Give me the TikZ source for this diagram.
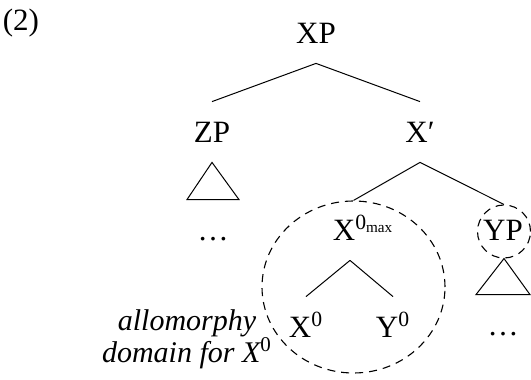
\documentclass[tikz,border=0pt]{standalone}
\usepackage{fontspec}
\setmainfont{Liberation Serif}
\usepackage{tikz}
\usetikzlibrary{
  positioning,
  shapes.geometric,
  calc
}
\tikzset{
  % Category label of a tree node
  catlabel/.style={
    font=\fontsize{15.5}{17}\selectfont,
    inner xsep=0pt,
    inner ysep=10pt,
    text height=10pt,
    text depth=0pt,
    anchor=base
  },
  % Tree branch
  branch/.style={
    draw=black,
    line width=0.5pt
  },
  % Dashed domain circle
  domcircle/.style={
    draw=black,
    line width=0.55pt,
    dash pattern=on 4pt off 3pt,
    inner sep=0pt
  },
  % Side note
  note/.style={
    font=\fontsize{15}{16}\selectfont\itshape,
    align=center,
    inner sep=0pt
  }
}

\begin{document}
\begin{tikzpicture}[x=0.5pt, y=-0.5pt]
  \useasboundingbox (0,0) rectangle (531,380);

  % example number
  \node[font=\fontsize{15.5}{17}\selectfont, anchor=base, inner sep=0pt] (exnum) at (21,31) {(2)};

  % tree nodes
  \node[catlabel] (XP) at (316,43) {XP};
  \node[catlabel] (ZP) at (212,142) {ZP};
  \node[catlabel] (Xbar) at (420,142) {X′};
  \node[catlabel] (Xmax) at (350,240) {X\textsuperscript{0\rlap{\textsubscript{max}}}};
  \node[catlabel] (Xzero) at (306,337) {X\textsuperscript{0}};
  \node[catlabel] (Yzero) at (393,337) {Y\textsuperscript{0}};
  \node[catlabel] (YP) at (503,240) {YP};
  \node[catlabel] (dotsZ) at (213,240) {\dots};
  \node[catlabel] (dotsY) at (503,335) {\dots};

  % domains
  \node[domcircle, ellipse, minimum width=91.5pt, minimum height=86pt] (dom) at (353.5,287) {};
  \node[domcircle, circle, minimum size=26.5pt] (YPdom) at (504,231.5) {};
  \node[note] (allo) at (187,339) {allomorphy\\domain for X\textsuperscript{\upshape 0}};

  % branches
  \draw[branch] (XP.south) -- (ZP.north);
  \draw[branch] (XP.south) -- (Xbar.north);
  \draw[branch] (Xbar.south) -- (dom.north);
  \draw[branch] (Xbar.south) -- (YPdom.north);
  \draw[branch] (Xmax.south) -- (Xzero.north);
  \draw[branch] (Xmax.south) -- (Yzero.north);

  % triangles
  \draw[branch] (ZP.south) -- ($(dotsZ.north)+(-26,0)$) -- ($(dotsZ.north)+(26,0)$) -- cycle;
  \draw[branch] (YPdom.south) -- ($(dotsY.north)+(-27,0)$) -- ($(dotsY.north)+(27,0)$) -- cycle;
\end{tikzpicture}
\end{document}
